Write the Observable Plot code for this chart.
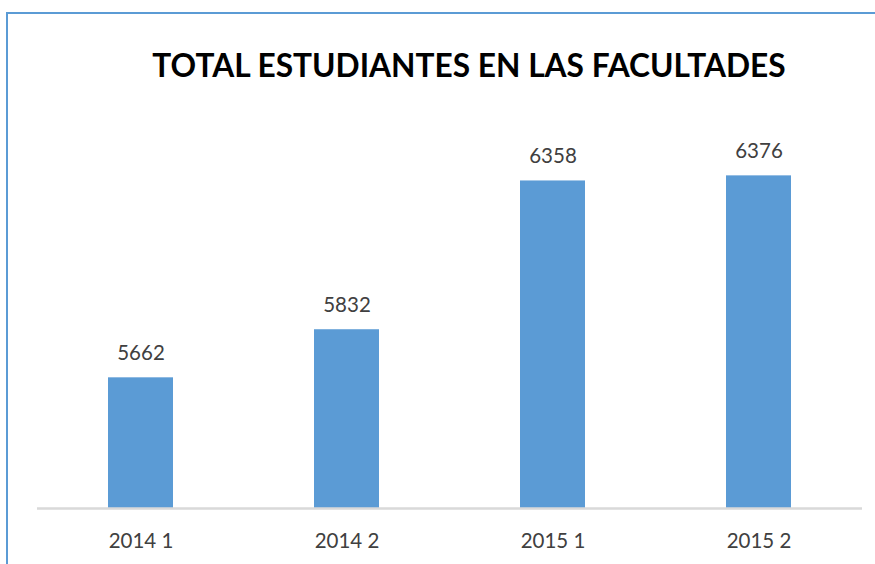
<!DOCTYPE html>
<html>
<head>
<meta charset="utf-8">
<script src="https://cdn.jsdelivr.net/npm/d3@7"></script>
<script src="https://cdn.jsdelivr.net/npm/@observablehq/plot@0.6"></script>
<style>
  html, body { margin: 0; padding: 0; background: #fff; overflow: hidden; }
  #wrap { position: relative; width: 875px; height: 564px; overflow: hidden; font-family: Lato, "Open Sans", sans-serif; }
  #hline { position: absolute; left: 6px; top: 12px; width: 869px; height: 2px; background: #5b9bd5; }
  #vline { position: absolute; left: 6px; top: 12px; width: 2px; height: 552px; background: #5b9bd5; }
  #title { position: absolute; left: 0; top: 0; width: 875px; height: 100px; }
  #title span { position: absolute; left: 469px; top: 46px; transform: translateX(-50%);
                font: bold 31.7px Lato, sans-serif; color: #000; white-space: nowrap; }
  #chart { position: absolute; left: 0; top: 100px; }
</style>
</head>
<body>
<div id="wrap">
  <div id="title"><span>TOTAL ESTUDIANTES EN LAS FACULTADES</span></div>
  <div id="chart"></div>
  <div id="hline"></div>
  <div id="vline"></div>
</div>
<script>
const periods = ["2014 1", "2014 2", "2015 1", "2015 2"];
const totals = [5662, 5832, 6358, 6376];
const yDomain = [5200, 6600];

const data = periods.map((p, i) => ({period: p, total: totals[i]}));

const chart = Plot.plot({
  width: 875,
  height: 464,
  marginTop: 12,
  marginBottom: 56,
  marginLeft: 37,
  marginRight: 13,
  style: {fontFamily: "Lato, sans-serif", background: "#fff"},
  x: {domain: periods, paddingInner: 0.685, paddingOuter: 0.3425, label: null},
  y: {domain: yDomain, axis: null},
  marks: [
    Plot.barY(data, {x: "period", y1: yDomain[0], y2: "total", fill: "#5b9bd5"}),
    Plot.ruleY([yDomain[0]], {stroke: "#d9d9d9", strokeWidth: 2.5}),
    Plot.text(data, {x: "period", y: "total", text: d => String(d.total), lineAnchor: "bottom", dy: -18, fontSize: 20.5, fill: "#404040"}),
    Plot.axisX({tickSize: 0, tickPadding: 25, fontSize: 20.5, color: "#404040", label: null})
  ]
});
document.getElementById("chart").appendChild(chart);
</script>
</body>
</html>
